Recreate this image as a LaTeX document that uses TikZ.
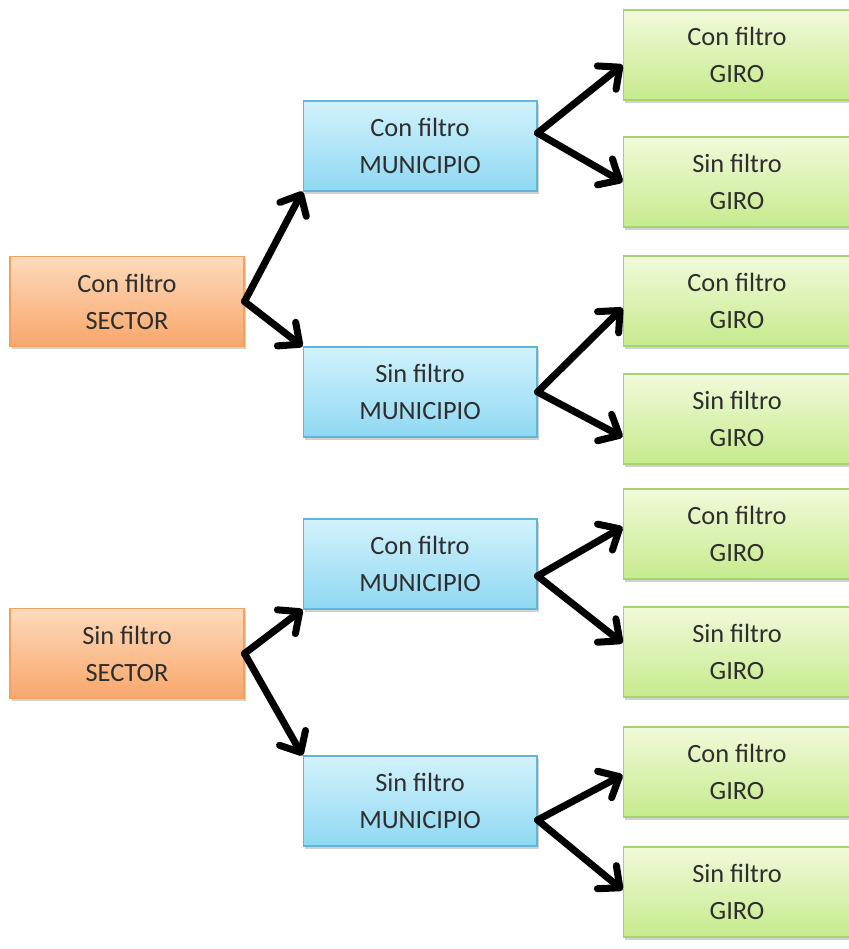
\documentclass[tikz,border=0pt]{standalone}
\usepackage{fontspec}
\setmainfont{Carlito}
\usepackage{xcolor}
\definecolor{sectortop}{HTML}{FDDABB}
\definecolor{sectorbot}{HTML}{F8A66A}
\definecolor{sectoredge}{HTML}{F0A264}
\definecolor{munitop}{HTML}{D2F2FC}
\definecolor{munibot}{HTML}{8FD8F2}
\definecolor{muniedge}{HTML}{62B5D8}
\definecolor{girotop}{HTML}{F1FADA}
\definecolor{girobot}{HTML}{C6EA8C}
\definecolor{giroedge}{HTML}{A7D272}
\definecolor{ink}{HTML}{2E2E2E}
\usetikzlibrary{arrows.meta, calc, shadows}

\begin{document}
\begin{tikzpicture}[
  x=0.02cm, y=-0.02cm,
  font=\fontsize{15}{21}\selectfont, text=ink,
  B/.style={
    draw, line width=0.6pt, align=center,
    minimum width=4.68cm, minimum height=1.8cm,
    drop shadow={shadow xshift=1.2pt, shadow yshift=-1.5pt, opacity=0.3, fill=black!60}
  },
  sector/.style={B, draw=sectoredge, top color=sectortop, bottom color=sectorbot},
  muni/.style={B, draw=muniedge, top color=munitop, bottom color=munibot},
  giro/.style={B, draw=giroedge, top color=girotop, bottom color=girobot, minimum width=4.56cm},
  arr/.style={-{Straight Barb[round, length=9.5pt, width=17pt]}, black, line width=4pt, line cap=round, line join=round}
]
  \useasboundingbox (0,0) rectangle (848,949);

  % first level
  \node[sector] (s1) at (127,301.5) {Con filtro\\SECTOR};
  \node[sector] (s2) at (127,653.5) {Sin filtro\\SECTOR};

  % second level
  \node[muni] (m1) at (420,146) {Con filtro\\MUNICIPIO};
  \node[muni] (m2) at (420,392) {Sin filtro\\MUNICIPIO};
  \node[muni] (m3) at (420,564) {Con filtro\\MUNICIPIO};
  \node[muni] (m4) at (420,801) {Sin filtro\\MUNICIPIO};

  % third level
  \node[giro] (g1) at (737,55)  {Con filtro\\GIRO};
  \node[giro] (g2) at (737,182) {Sin filtro\\GIRO};
  \node[giro] (g3) at (737,301) {Con filtro\\GIRO};
  \node[giro] (g4) at (737,419) {Sin filtro\\GIRO};
  \node[giro] (g5) at (737,534) {Con filtro\\GIRO};
  \node[giro] (g6) at (737,652) {Sin filtro\\GIRO};
  \node[giro] (g7) at (737,772) {Con filtro\\GIRO};
  \node[giro] (g8) at (737,892) {Sin filtro\\GIRO};

  \draw[arr] (s1.east) -- (m1.south west);
  \draw[arr] (s1.east) -- (m2.north west);
  \draw[arr] (s2.east) -- (m3.south west);
  \draw[arr] (s2.east) -- (m4.north west);

  \foreach \a/\da/\b/\db in {m1/-13/g1/10, m1/-13/g2/0, m2/0/g3/7, m2/0/g4/18,
                             m3/12/g5/-7, m3/12/g6/-9, m4/19/g7/3, m4/19/g8/-2}
    \draw[arr] ($(\a.east)+(0,\da)$) -- ($(\b.west)+(0,\db)$);
\end{tikzpicture}
\end{document}
